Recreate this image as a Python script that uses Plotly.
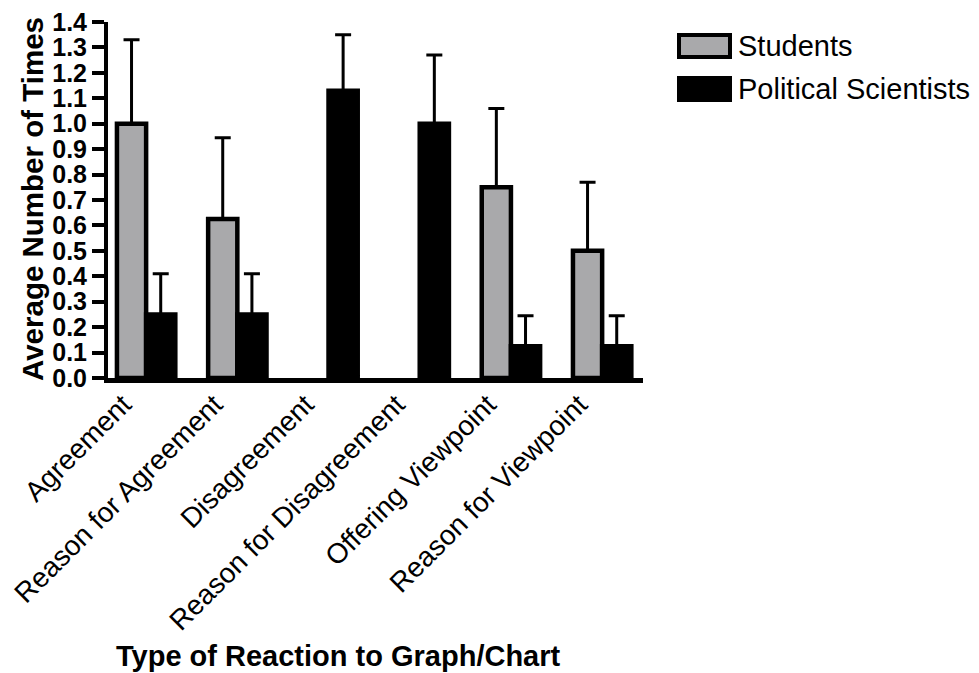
import plotly.graph_objects as go

categories = ["Agreement", "Reason for Agreement", "Disagreement",
              "Reason for Disagreement", "Offering Viewpoint", "Reason for Viewpoint"]
students = [1.0, 0.625, None, None, 0.75, 0.5]
students_err = [0.33, 0.32, None, None, 0.31, 0.27]
political = [0.25, 0.25, 1.13, 1.0, 0.125, 0.125]
political_err = [0.16, 0.16, 0.22, 0.27, 0.12, 0.12]
series_names = ["Students", "Political Scientists"]
y_ticks = [round(i * 0.1, 1) for i in range(15)]

FONT = "Liberation Sans, Arial, sans-serif"
GRAY = "#a9a9ab"

fig = go.Figure()
fig.add_trace(go.Bar(
    x=categories, y=students, name=series_names[0],
    marker=dict(color=GRAY, line=dict(color="black", width=4.5)),
    error_y=dict(type="data", array=students_err, arrayminus=[0] * 6, symmetric=False,
                 color="black", thickness=3, width=8),
    showlegend=False,
))
fig.add_trace(go.Bar(
    x=categories, y=political, name=series_names[1],
    marker=dict(color="black", line=dict(color="black", width=4.5)),
    error_y=dict(type="data", array=political_err, arrayminus=[0] * 6, symmetric=False,
                 color="black", thickness=3, width=8),
    showlegend=False,
))

L, R, T, B = 108, 336, 22, 295
W, H = 979, 673
pw = W - L - R
ph = H - T - B

def px_x(x):
    return (x - L) / pw

def px_y(y):
    return (H - B - y) / ph

# custom legend (large swatches as in the reference)
shapes = [
    dict(type="rect", xref="paper", yref="paper",
         x0=px_x(679), x1=px_x(730), y0=px_y(57), y1=px_y(35),
         fillcolor=GRAY, line=dict(color="black", width=4)),
    dict(type="rect", xref="paper", yref="paper",
         x0=px_x(677), x1=px_x(732), y0=px_y(102), y1=px_y(76),
         fillcolor="black", line=dict(color="black", width=0)),
]
annotations = [
    dict(text=series_names[0], xref="paper", yref="paper", x=px_x(736), y=px_y(46),
         xanchor="left", yanchor="middle", showarrow=False,
         font=dict(family=FONT, size=29, color="black")),
    dict(text=series_names[1], xref="paper", yref="paper", x=px_x(736), y=px_y(89),
         xanchor="left", yanchor="middle", showarrow=False,
         font=dict(family=FONT, size=29, color="black")),
    dict(text="<b>Average Number of Times</b>", xref="paper", yref="paper",
         x=px_x(32), y=px_y(199), xanchor="center", yanchor="middle",
         textangle=-90, showarrow=False,
         font=dict(family=FONT, size=29.5, color="black")),
    dict(text="<b>Type of Reaction to Graph/Chart</b>", xref="paper", yref="paper",
         x=px_x(338), y=px_y(656), xanchor="center", yanchor="middle",
         showarrow=False, font=dict(family=FONT, size=29, color="black")),
]

fig.update_layout(
    width=W, height=H,
    margin=dict(l=L, r=R, t=T, b=B, autoexpand=False),
    plot_bgcolor="white", paper_bgcolor="white",
    barmode="group", bargap=0.36, bargroupgap=0,
    shapes=shapes, annotations=annotations,
    font=dict(family=FONT, color="black"),
)
fig.update_xaxes(
    range=[-0.418, 5.448], showgrid=False, zeroline=False,
    showline=True, linecolor="black", linewidth=5,
    ticks="", tickangle=-45, ticklabelshift=-23, ticklabelstandoff=-6,
    tickfont=dict(family=FONT, size=28, color="black"),
)
fig.update_yaxes(
    range=[0, 1.4], tickvals=y_ticks, tickformat=".1f",
    showgrid=False, zeroline=False,
    showline=True, linecolor="black", linewidth=4,
    ticks="outside", ticklen=12, tickwidth=4, tickcolor="black",
    tickfont=dict(family=FONT, size=25, color="black", weight="bold"),
)

fig.write_html("out.html")
